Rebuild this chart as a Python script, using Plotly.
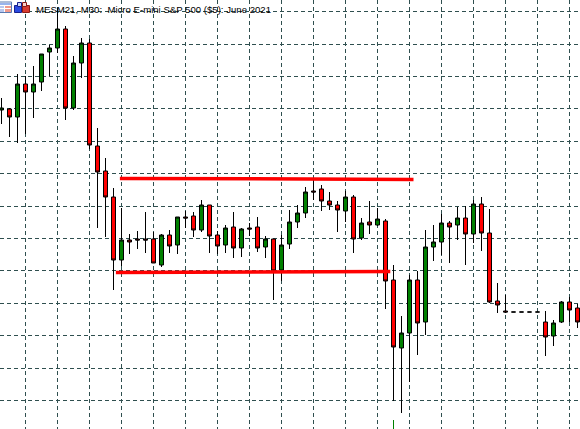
import plotly.graph_objects as go

W, H = 580, 429

## Chart text ##
title = "MESM21, M30:  Micro E-mini S&P 500 ($5): June 2021"

## 30 minute bars, one per slot, vertical scale is chart points ##
opens = [319, 320, 312, 345, 337, 347, 377, 381, 400, 321, 366, 386, 283, 258, 232, 169, 189, 190, 190,
         190, 164, 194, 184, 212, 213, 199, 224, 194, 184, 202, 181, 201, 202, 182, 190, 159, 185, 207,
         216, 238, 240, 228, 224, 218, 232, 191, 207, 204, 208, 149, 81, 96, 149, 107, 182, 187, 206,
         204, 211, 195, 225, 196, 128, 118, 117, 117, 117, 117, 107, 93, 107, 127, 121]
highs = [331, 321, 355, 353, 363, 375, 384, 421, 403, 373, 391, 390, 301, 271, 241, 221, 195, 198, 217,
         197, 195, 199, 212, 218, 217, 229, 224, 198, 204, 217, 201, 206, 212, 193, 190, 194, 219, 224,
         242, 249, 244, 237, 228, 238, 234, 211, 228, 221, 210, 164, 113, 154, 158, 199, 204, 215, 208,
         222, 223, 229, 232, 220, 146, 134, 117, 117, 117, 117, 118, 109, 128, 132, 125]
lows = [305, 292, 286, 295, 311, 338, 353, 376, 309, 319, 351, 280, 201, 192, 139, 163, 175, 180, 176,
        166, 162, 176, 175, 201, 192, 197, 176, 175, 176, 171, 172, 193, 177, 171, 129, 148, 180, 201,
        211, 229, 218, 219, 197, 207, 176, 189, 195, 203, 120, 28, 16, 47, 74, 94, 168, 174, 166,
        189, 164, 186, 178, 126, 116, 116, 117, 117, 117, 117, 73, 83, 106, 107, 101]
closes = [321, 312, 345, 337, 345, 375, 381, 400, 321, 366, 386, 284, 257, 232, 169, 189, 187, 189, 189,
          166, 194, 183, 212, 211, 199, 224, 193, 183, 201, 181, 200, 200, 181, 190, 158, 184, 207, 216,
          237, 237, 228, 224, 219, 232, 190, 206, 204, 210, 148, 82, 96, 149, 106, 182, 187, 206, 202,
          211, 195, 225, 196, 127, 124, 117, 117, 117, 117, 117, 92, 106, 127, 119, 107]
bars = list(range(len(opens)))

## Hand drawn levels: start and end of each line ##
upper_x = [14.8, 51.5]
upper_y = [250.6, 249.6]
lower_x = [14.3, 48.6]
lower_y = [156.6, 157.4]

## Green stub at the bottom edge ##
stub_x = [49, 49]
stub_y = [9, 0]

fig = go.Figure()

fig.add_trace(go.Candlestick(x=bars, open=opens, high=highs, low=lows, close=closes,
                             whiskerwidth=0,
                             increasing=dict(fillcolor='#008000', line=dict(color='black', width=1)),
                             decreasing=dict(fillcolor='#ff0000', line=dict(color='black', width=1))))

fig.add_trace(go.Scatter(x=upper_x, y=upper_y, mode='lines', line=dict(color='#ff0000', width=3.5)))
fig.add_trace(go.Scatter(x=lower_x, y=lower_y, mode='lines', line=dict(color='#ff0000', width=3.5)))
fig.add_trace(go.Scatter(x=stub_x, y=stub_y, mode='lines', line=dict(color='#008000', width=1)))


def box(x0, y0, x1, y1, fill, line=None):
    # pixel box for the little header icons
    return dict(type='rect', xref='paper', yref='paper', layer='above',
                x0=x0 / W, x1=x1 / W, y0=1 - y0 / H, y1=1 - y1 / H,
                fillcolor=fill, line=dict(color=line or fill, width=1 if line else 0))


icons = [box(-1, 2, 11.5, 12.5, '#ffffff', '#5a7ab0'),
         box(0, 3, 11, 5, '#9ab4ec'),
         box(0, 6, 4, 8, '#b8c8ee'), box(5, 6, 11, 8, '#f29a8c'),
         box(0, 9, 4, 12, '#b8c8ee'), box(5, 9, 11, 12, '#f29a8c'),
         box(14.5, 5.5, 21.5, 12.5, '#2a4ae0', '#17208c'),
         box(22.5, 5.5, 29.5, 12.5, '#d83a30', '#8c1a14'),
         box(17.5, 2.5, 21.5, 6.5, '#d0d8f8', '#17208c'),
         box(22.5, 2.5, 26.5, 6.5, '#f8d0c8', '#8c1a14')]

grid = dict(showgrid=True, gridcolor='#2f4f4f', gridwidth=1, griddash='4px,3px',
            showticklabels=False, ticks='', zeroline=False, showline=False)

fig.update_layout(width=W, height=H, autosize=False, margin=dict(l=0, r=0, t=0, b=0),
                  paper_bgcolor='white', plot_bgcolor='white', showlegend=False,
                  boxgap=0, boxgroupgap=0.5,
                  xaxis=dict(range=[-1.5 / 8, 578.5 / 8], tick0=3, dtick=4,
                             rangeslider=dict(visible=False), **grid),
                  yaxis=dict(range=[0, H], tick0=28.5, dtick=32.4, **grid),
                  shapes=icons,
                  annotations=[dict(text=title, xref='paper', yref='paper', x=35 / W, y=1 - 3 / H,
                                    xanchor='left', yanchor='top', showarrow=False,
                                    font=dict(family='Liberation Sans', size=9.6, color='black'),
                                    borderpad=0)])

# drop the default page margin so the picture sits at 0,0
fig.write_html("out.html", config=dict(displayModeBar=False),
               post_script="document.body.style.margin='0';document.body.style.overflow='hidden';")
